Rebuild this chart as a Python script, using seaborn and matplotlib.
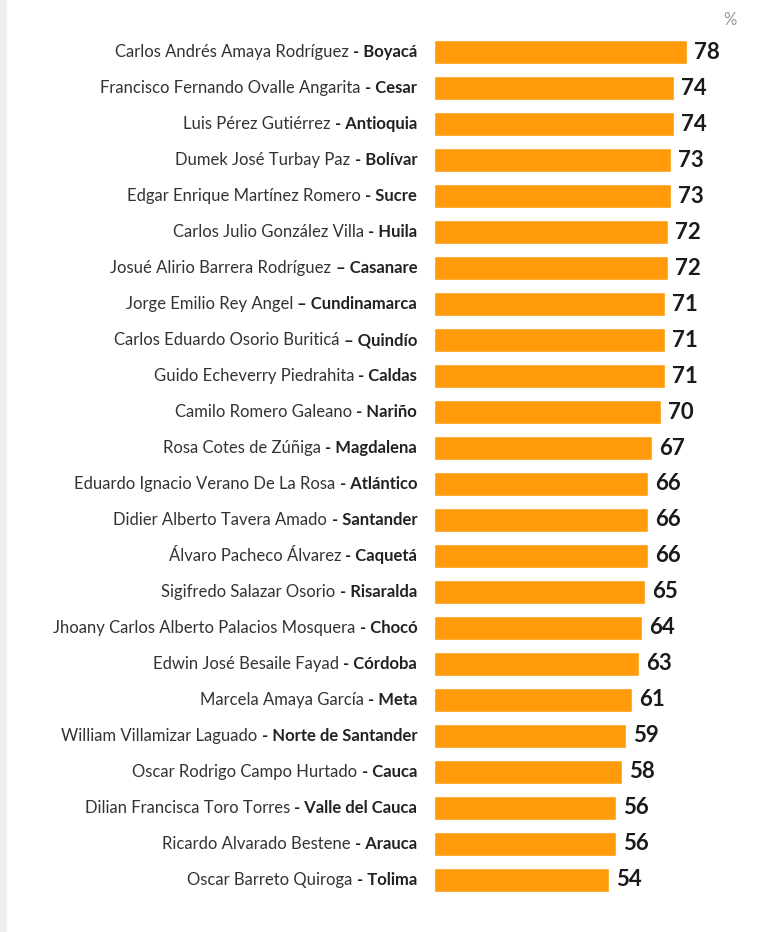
import matplotlib
matplotlib.use("Agg")
import matplotlib.pyplot as plt
import seaborn as sns
import pandas as pd

names = [
    "Carlos Andrés Amaya Rodríguez", "Francisco Fernando Ovalle Angarita",
    "Luis Pérez Gutiérrez", "Dumek José Turbay Paz",
    "Edgar Enrique Martínez Romero", "Carlos Julio González Villa",
    "Josué Alirio Barrera Rodríguez", "Jorge Emilio Rey Angel",
    "Carlos Eduardo Osorio Buriticá", "Guido Echeverry Piedrahita",
    "Camilo Romero Galeano", "Rosa Cotes de Zúñiga",
    "Eduardo Ignacio Verano De La Rosa", "Didier Alberto Tavera Amado",
    "Álvaro Pacheco Álvarez", "Sigifredo Salazar Osorio",
    "Jhoany Carlos Alberto Palacios Mosquera", "Edwin José Besaile Fayad",
    "Marcela Amaya García", "William Villamizar Laguado",
    "Oscar Rodrigo Campo Hurtado", "Dilian Francisca Toro Torres",
    "Ricardo Alvarado Bestene", "Oscar Barreto Quiroga",
]
departments = [
    "- Boyacá", "- Cesar", "- Antioquia", "- Bolívar", "- Sucre", "- Huila",
    "– Casanare", "– Cundinamarca", "– Quindío", "- Caldas", "- Nariño",
    "- Magdalena", "- Atlántico", "- Santander", "- Caquetá", "- Risaralda",
    "- Chocó", "- Córdoba", "- Meta", "- Norte de Santander", "- Cauca",
    "- Valle del Cauca", "- Arauca", "- Tolima",
]
approval = [78, 74, 74, 73, 73, 72, 72, 71, 71, 71, 70, 67, 66, 66, 66,
            65, 64, 63, 61, 59, 58, 56, 56, 54]

BAR_COLOR = "#FF9A0A"
FONT = ["Lato", "DejaVu Sans"]

df = pd.DataFrame({"key": [f"{n} {d}" for n, d in zip(names, departments)],
                   "value": approval})

sns.set_style("white")
plt.rcParams["font.family"] = FONT

fig = plt.figure(figsize=(7.72, 9.32), dpi=100)
ax = fig.add_axes([0.562, 0.0365, 0.438, 0.927])

sns.barplot(data=df, x="value", y="key", orient="h", color=BAR_COLOR,
            width=0.64, saturation=1, ax=ax)

ax.set_xlim(0, 104)
ax.set_xlabel("")
ax.set_ylabel("")
ax.set_xticks([])
ax.set_yticks([])
for s in ax.spines.values():
    s.set_visible(False)

for i, (n, d, v) in enumerate(zip(names, departments, approval)):
    bold = ax.annotate(d, xy=(0, i), xytext=(-12, 0), textcoords="offset points",
                       ha="right", va="center", fontsize=12,
                       fontweight="bold", color="#222222")
    ax.annotate(n + " ", xy=(0, 0.5), xycoords=bold, ha="right", va="center",
                fontsize=12, color="#333333")
    ax.annotate(str(v), xy=(v, i), xytext=(5, 0), textcoords="offset points",
                ha="left", va="center", fontsize=16, fontweight="bold",
                color="#1a1a1a")

fig.text(730 / 772, 1 - 20 / 932, "%", ha="center", va="center",
         fontsize=12, color="#999999")
fig.patches.append(plt.Rectangle((0, 0), 6 / 772, 1, transform=fig.transFigure,
                                 color="#eeeeee", zorder=0))

fig.savefig("out.png", dpi=100)
